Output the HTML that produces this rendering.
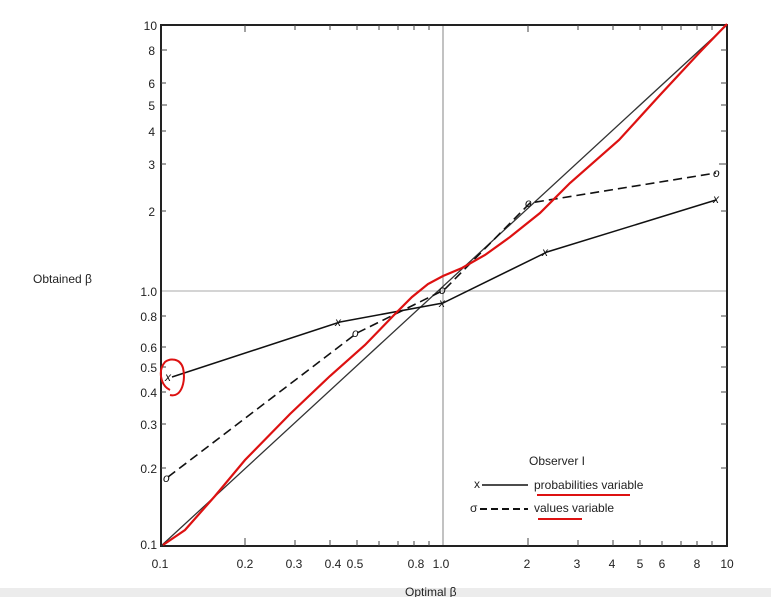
<!DOCTYPE html>
<html><head><meta charset="utf-8"><style>
html,body{margin:0;padding:0;background:#fff;}
body{width:771px;height:597px;overflow:hidden;position:relative;font-family:"Liberation Sans",sans-serif;}
.band{position:absolute;left:0;top:588px;width:771px;height:9px;background:#ececec;}
</style></head><body>
<div class="band"></div>
<svg width="771" height="597" style="position:absolute;left:0;top:0" font-family="Liberation Sans, sans-serif">
<line x1="443" y1="25" x2="443" y2="546" stroke="#999" stroke-width="1.2"/>
<line x1="161" y1="291" x2="727" y2="291" stroke="#bbb" stroke-width="1.2"/>
<rect x="161" y="25" width="566" height="521" fill="none" stroke="#222" stroke-width="2"/>
<g stroke="#444" stroke-width="1">
<line x1="245" y1="546" x2="245" y2="538"/><line x1="295" y1="546" x2="295" y2="540"/><line x1="330" y1="546" x2="330" y2="540"/><line x1="357" y1="546" x2="357" y2="540"/><line x1="379" y1="546" x2="379" y2="541"/><line x1="398" y1="546" x2="398" y2="541"/><line x1="414" y1="546" x2="414" y2="541"/><line x1="429" y1="546" x2="429" y2="541"/>
<line x1="528" y1="546" x2="528" y2="538"/><line x1="578" y1="546" x2="578" y2="540"/><line x1="613" y1="546" x2="613" y2="540"/><line x1="640" y1="546" x2="640" y2="540"/><line x1="662" y1="546" x2="662" y2="541"/><line x1="681" y1="546" x2="681" y2="541"/><line x1="697" y1="546" x2="697" y2="541"/><line x1="712" y1="546" x2="712" y2="541"/>
<line x1="245" y1="25" x2="245" y2="32"/><line x1="295" y1="25" x2="295" y2="30"/><line x1="330" y1="25" x2="330" y2="30"/><line x1="357" y1="25" x2="357" y2="30"/><line x1="379" y1="25" x2="379" y2="30"/><line x1="398" y1="25" x2="398" y2="30"/><line x1="414" y1="25" x2="414" y2="30"/><line x1="429" y1="25" x2="429" y2="30"/>
<line x1="528" y1="25" x2="528" y2="32"/><line x1="578" y1="25" x2="578" y2="30"/><line x1="613" y1="25" x2="613" y2="30"/><line x1="640" y1="25" x2="640" y2="30"/><line x1="662" y1="25" x2="662" y2="30"/><line x1="681" y1="25" x2="681" y2="30"/><line x1="697" y1="25" x2="697" y2="30"/><line x1="712" y1="25" x2="712" y2="30"/>
<line x1="161" y1="50" x2="167" y2="50"/><line x1="161" y1="83" x2="166" y2="83"/><line x1="161" y1="105" x2="167" y2="105"/><line x1="161" y1="131" x2="166" y2="131"/><line x1="161" y1="164" x2="166" y2="164"/><line x1="161" y1="211" x2="166" y2="211"/>
<line x1="161" y1="316" x2="166" y2="316"/><line x1="161" y1="347" x2="166" y2="347"/><line x1="161" y1="367" x2="166" y2="367"/><line x1="161" y1="392" x2="166" y2="392"/><line x1="161" y1="424" x2="166" y2="424"/><line x1="161" y1="468" x2="166" y2="468"/>
<line x1="727" y1="50" x2="721" y2="50"/><line x1="727" y1="83" x2="721" y2="83"/><line x1="727" y1="105" x2="721" y2="105"/><line x1="727" y1="131" x2="721" y2="131"/><line x1="727" y1="164" x2="719" y2="164"/><line x1="727" y1="211" x2="721" y2="211"/>
<line x1="727" y1="316" x2="721" y2="316"/><line x1="727" y1="347" x2="721" y2="347"/><line x1="727" y1="367" x2="721" y2="367"/><line x1="727" y1="392" x2="721" y2="392"/><line x1="727" y1="424" x2="721" y2="424"/><line x1="727" y1="468" x2="721" y2="468"/>
</g>
<g font-size="12" fill="#222" text-anchor="end">
<text x="157" y="30">10</text><text x="155" y="55">8</text><text x="155" y="88">6</text><text x="155" y="110">5</text><text x="155" y="136">4</text><text x="155" y="169">3</text><text x="155" y="216">2</text>
<text x="157" y="296">1.0</text><text x="157" y="321">0.8</text><text x="157" y="352">0.6</text><text x="157" y="372">0.5</text><text x="157" y="397">0.4</text><text x="157" y="429">0.3</text><text x="157" y="473">0.2</text><text x="157" y="549">0.1</text>
</g>
<g font-size="12" fill="#222" text-anchor="middle">
<text x="160" y="568">0.1</text><text x="245" y="568">0.2</text><text x="294" y="568">0.3</text><text x="333" y="568">0.4</text><text x="355" y="568">0.5</text><text x="416" y="568">0.8</text><text x="441" y="568">1.0</text>
<text x="527" y="568">2</text><text x="577" y="568">3</text><text x="612" y="568">4</text><text x="640" y="568">5</text><text x="662" y="568">6</text><text x="697" y="568">8</text><text x="727" y="568">10</text>
</g>
<text x="405" y="596" font-size="12" fill="#222">Optimal β</text>
<text x="33" y="283" font-size="12" fill="#222">Obtained β</text>
<line x1="161" y1="546" x2="727" y2="25" stroke="#333" stroke-width="1.3"/>
<polyline points="172,377 340,322 443,303 547,252 716,200" fill="none" stroke="#111" stroke-width="1.5"/>
<polyline points="168,477 357,333 444,290 530,203 716,173" fill="none" stroke="#111" stroke-width="1.6" stroke-dasharray="9,5"/>
<g font-size="12" fill="#111" font-style="italic">
<text x="165" y="381">x</text><text x="335" y="326">x</text><text x="439" y="307">x</text><text x="542" y="256">x</text><text x="713" y="203">x</text>
<text x="163" y="482">o</text><text x="352" y="337">o</text><text x="439" y="294">o</text><text x="525" y="207">o</text><text x="713" y="177">o</text>
</g>
<path d="M163,545 L185,530 L215,496 L245,460 L290,414 L330,376 L365,345 L395,314 L412,297 L428,284 L443,276 L462,268 L485,255 L510,237 L540,213 L570,183 L619,140 L660,95 L700,52 L727,24" fill="none" stroke="#d11" stroke-width="2.2"/>
<path d="M170,395 C182,398 186,380 183,368 C180,358 170,358 165,362 C158,370 160,385 170,390" fill="none" stroke="#d11" stroke-width="2"/>
<text x="529" y="465" font-size="12" fill="#222">Observer I</text>
<text x="474" y="488" font-size="12" fill="#222">x</text>
<line x1="482" y1="485" x2="528" y2="485" stroke="#111" stroke-width="1.5"/>
<text x="534" y="489" font-size="12" fill="#222">probabilities variable</text>
<text x="470" y="512" font-size="12" fill="#222">σ</text>
<line x1="480" y1="509" x2="528" y2="509" stroke="#111" stroke-width="2" stroke-dasharray="7,4"/>
<text x="534" y="512" font-size="12" fill="#222">values variable</text>
<path d="M537,495 L630,495" stroke="#d11" stroke-width="2"/>
<path d="M538,519 L582,519" stroke="#d11" stroke-width="2"/>
</svg>
</body></html>
